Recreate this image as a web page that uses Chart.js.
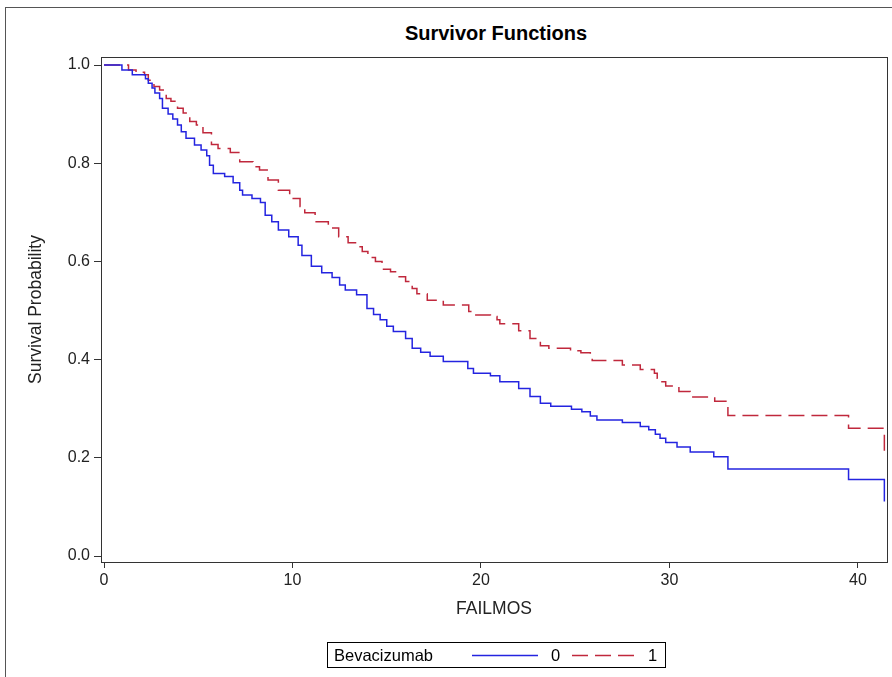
<!DOCTYPE html>
<html>
<head>
<meta charset="utf-8">
<script src="https://cdn.jsdelivr.net/npm/chart.js@4.4.1/dist/chart.umd.min.js"></script>
<style>
  html, body { margin: 0; padding: 0; background: #fff; }
  body { width: 892px; height: 677px; position: relative; overflow: hidden; font-family: "Liberation Sans", Arial, sans-serif; }
  #frame { position: absolute; left: 5px; top: 7px; width: 900px; height: 700px; border: 1px solid #555; box-sizing: border-box; }
  #title { position: absolute; left: 0; width: 992px; top: 22px; text-align: center; font-weight: bold; font-size: 20px; color: #000; }
  #wrap { position: absolute; left: 0; top: 0; width: 892px; height: 677px; }
  #legend { position: absolute; left: 327px; top: 642px; width: 339px; height: 26px; border: 1px solid #000; box-sizing: border-box; font-size: 16.5px; color: #000; }
  #legend span { position: absolute; top: 3px; }
  #legend svg { position: absolute; top: 0; }
</style>
</head>
<body>
<div id="frame"></div>
<div id="title">Survivor Functions</div>
<div id="wrap"><canvas id="c" width="892" height="677"></canvas></div>
<div id="legend">
  <span style="left:6px">Bevacizumab</span>
  <svg style="left:144px" width="66" height="24"><line x1="0" y1="12.5" x2="66" y2="12.5" stroke="#2424e0" stroke-width="1.5"/></svg>
  <span style="left:223px">0</span>
  <svg style="left:244px" width="64" height="24"><line x1="0" y1="12.5" x2="64" y2="12.5" stroke="#c0283c" stroke-width="1.5" stroke-dasharray="16,7"/></svg>
  <span style="left:320px">1</span>
</div>
<script>
// Group 0 (Bevacizumab = 0): event times (months) and survival after each step
const blueT = [0, 0.95, 1.5, 2.2, 2.35, 2.55, 2.7, 2.95, 3.1, 3.4, 3.65, 3.9, 4.1, 4.35, 4.8, 5.15, 5.45, 5.6, 5.8, 6.4, 6.85, 7.2, 7.35, 7.85, 8.3, 8.55, 8.9, 9.25, 9.8, 10.3, 10.5, 11.0, 11.55, 12.1, 12.5, 12.8, 13.4, 13.95, 14.3, 14.65, 15.0, 15.35, 16.0, 16.35, 16.8, 17.3, 18.0, 19.3, 19.6, 20.5, 21.0, 22.0, 22.6, 23.15, 23.7, 24.8, 25.35, 25.8, 26.15, 27.5, 28.45, 28.9, 29.25, 29.5, 29.8, 30.4, 31.1, 32.35, 33.1, 39.5, 41.4];
const blueS = [1.0, 0.99, 0.98, 0.972, 0.963, 0.953, 0.943, 0.932, 0.912, 0.900, 0.890, 0.878, 0.864, 0.851, 0.837, 0.827, 0.815, 0.796, 0.779, 0.773, 0.760, 0.745, 0.735, 0.728, 0.720, 0.694, 0.681, 0.664, 0.650, 0.633, 0.612, 0.590, 0.577, 0.567, 0.552, 0.542, 0.532, 0.504, 0.492, 0.481, 0.468, 0.457, 0.443, 0.423, 0.415, 0.407, 0.396, 0.382, 0.372, 0.367, 0.355, 0.341, 0.325, 0.311, 0.305, 0.299, 0.294, 0.285, 0.277, 0.272, 0.264, 0.257, 0.248, 0.240, 0.231, 0.222, 0.212, 0.202, 0.177, 0.156, 0.111];
// Group 1 (Bevacizumab = 1)
const redT = [0, 1.3, 1.7, 2.15, 2.35, 2.65, 2.95, 3.3, 3.55, 3.9, 4.2, 4.55, 4.9, 5.25, 5.7, 6.05, 6.7, 7.2, 7.9, 8.25, 8.7, 9.25, 9.85, 10.4, 10.65, 11.2, 11.9, 12.45, 12.95, 13.5, 13.7, 14.0, 14.4, 14.75, 15.2, 15.55, 16.0, 16.35, 16.6, 17.15, 18.0, 19.35, 19.6, 20.5, 20.85, 21.0, 22.0, 22.6, 23.15, 23.6, 24.75, 25.3, 25.8, 25.9, 27.5, 28.45, 29.2, 29.35, 29.6, 29.8, 30.5, 31.1, 32.4, 33.1, 39.5, 41.4];
const redS = [1.0, 0.99, 0.985, 0.98, 0.969, 0.956, 0.949, 0.932, 0.926, 0.912, 0.902, 0.885, 0.878, 0.862, 0.838, 0.830, 0.822, 0.803, 0.793, 0.786, 0.766, 0.745, 0.728, 0.712, 0.699, 0.681, 0.668, 0.650, 0.638, 0.630, 0.620, 0.608, 0.600, 0.584, 0.579, 0.569, 0.559, 0.545, 0.534, 0.521, 0.511, 0.498, 0.491, 0.488, 0.481, 0.473, 0.459, 0.443, 0.428, 0.423, 0.418, 0.414, 0.406, 0.398, 0.389, 0.380, 0.372, 0.362, 0.355, 0.346, 0.335, 0.324, 0.315, 0.286, 0.260, 0.202];
const xTicks = [0, 10, 20, 30, 40];
const yTicks = [0, 0.2, 0.4, 0.6, 0.8, 1.0];
const groupLabels = ['0', '1'];

const toPts = (t, s) => t.map((v, i) => ({ x: v, y: s[i] }));
const FONT = '"Liberation Sans", Arial, sans-serif';
const AXC = '#333';

const frameBorder = {
  id: 'frameBorder',
  afterDraw(chart) {
    const { ctx, chartArea: a } = chart;
    ctx.save();
    ctx.strokeStyle = AXC;
    ctx.lineWidth = 1;
    ctx.strokeRect(Math.round(a.left) + 0.5, Math.round(a.top) + 0.5, Math.round(a.right - a.left), Math.round(a.bottom - a.top));
    ctx.restore();
  }
};

new Chart(document.getElementById('c'), {
  type: 'line',
  data: {
    datasets: [
      { label: groupLabels[0], data: toPts(blueT, blueS), borderColor: '#2424e0', borderWidth: 1.5, stepped: true, pointRadius: 0, fill: false },
      { label: groupLabels[1], data: toPts(redT, redS), borderColor: '#c0283c', borderWidth: 1.5, borderDash: [16, 7], stepped: true, pointRadius: 0, fill: false }
    ]
  },
  options: {
    responsive: false,
    devicePixelRatio: 1,
    animation: false,
    layout: { padding: { left: 0, top: 57, right: 5, bottom: 0 } },
    plugins: { legend: { display: false }, title: { display: false }, tooltip: { enabled: false } },
    scales: {
      x: {
        type: 'linear', min: -0.16, max: 41.54,
        afterBuildTicks: s => { s.ticks = xTicks.map(v => ({ value: v })); },
        afterFit: s => { s.height = 115; },
        ticks: { font: { family: FONT, size: 16 }, color: '#222', padding: 3, maxRotation: 0 },
        grid: { drawOnChartArea: false, drawTicks: true, tickLength: 6, color: AXC },
        border: { display: true, color: AXC },
        title: { display: true, text: 'FAILMOS', font: { family: FONT, size: 17.5 }, color: '#222', padding: { top: 0, bottom: 57 } }
      },
      y: {
        type: 'linear', min: -0.0122, max: 1.0163,
        afterBuildTicks: s => { s.ticks = yTicks.map(v => ({ value: v })); },
        afterFit: s => { s.width = 101; },
        ticks: { font: { family: FONT, size: 16 }, color: '#222', padding: 4, callback: v => Number(v).toFixed(1) },
        grid: { drawOnChartArea: false, drawTicks: true, tickLength: 7, color: AXC },
        border: { display: true, color: AXC },
        title: { display: true, text: 'Survival Probability', font: { family: FONT, size: 17.5 }, color: '#222', padding: { top: 26, bottom: 0 } }
      }
    }
  },
  plugins: [frameBorder]
});
</script>
</body>
</html>
